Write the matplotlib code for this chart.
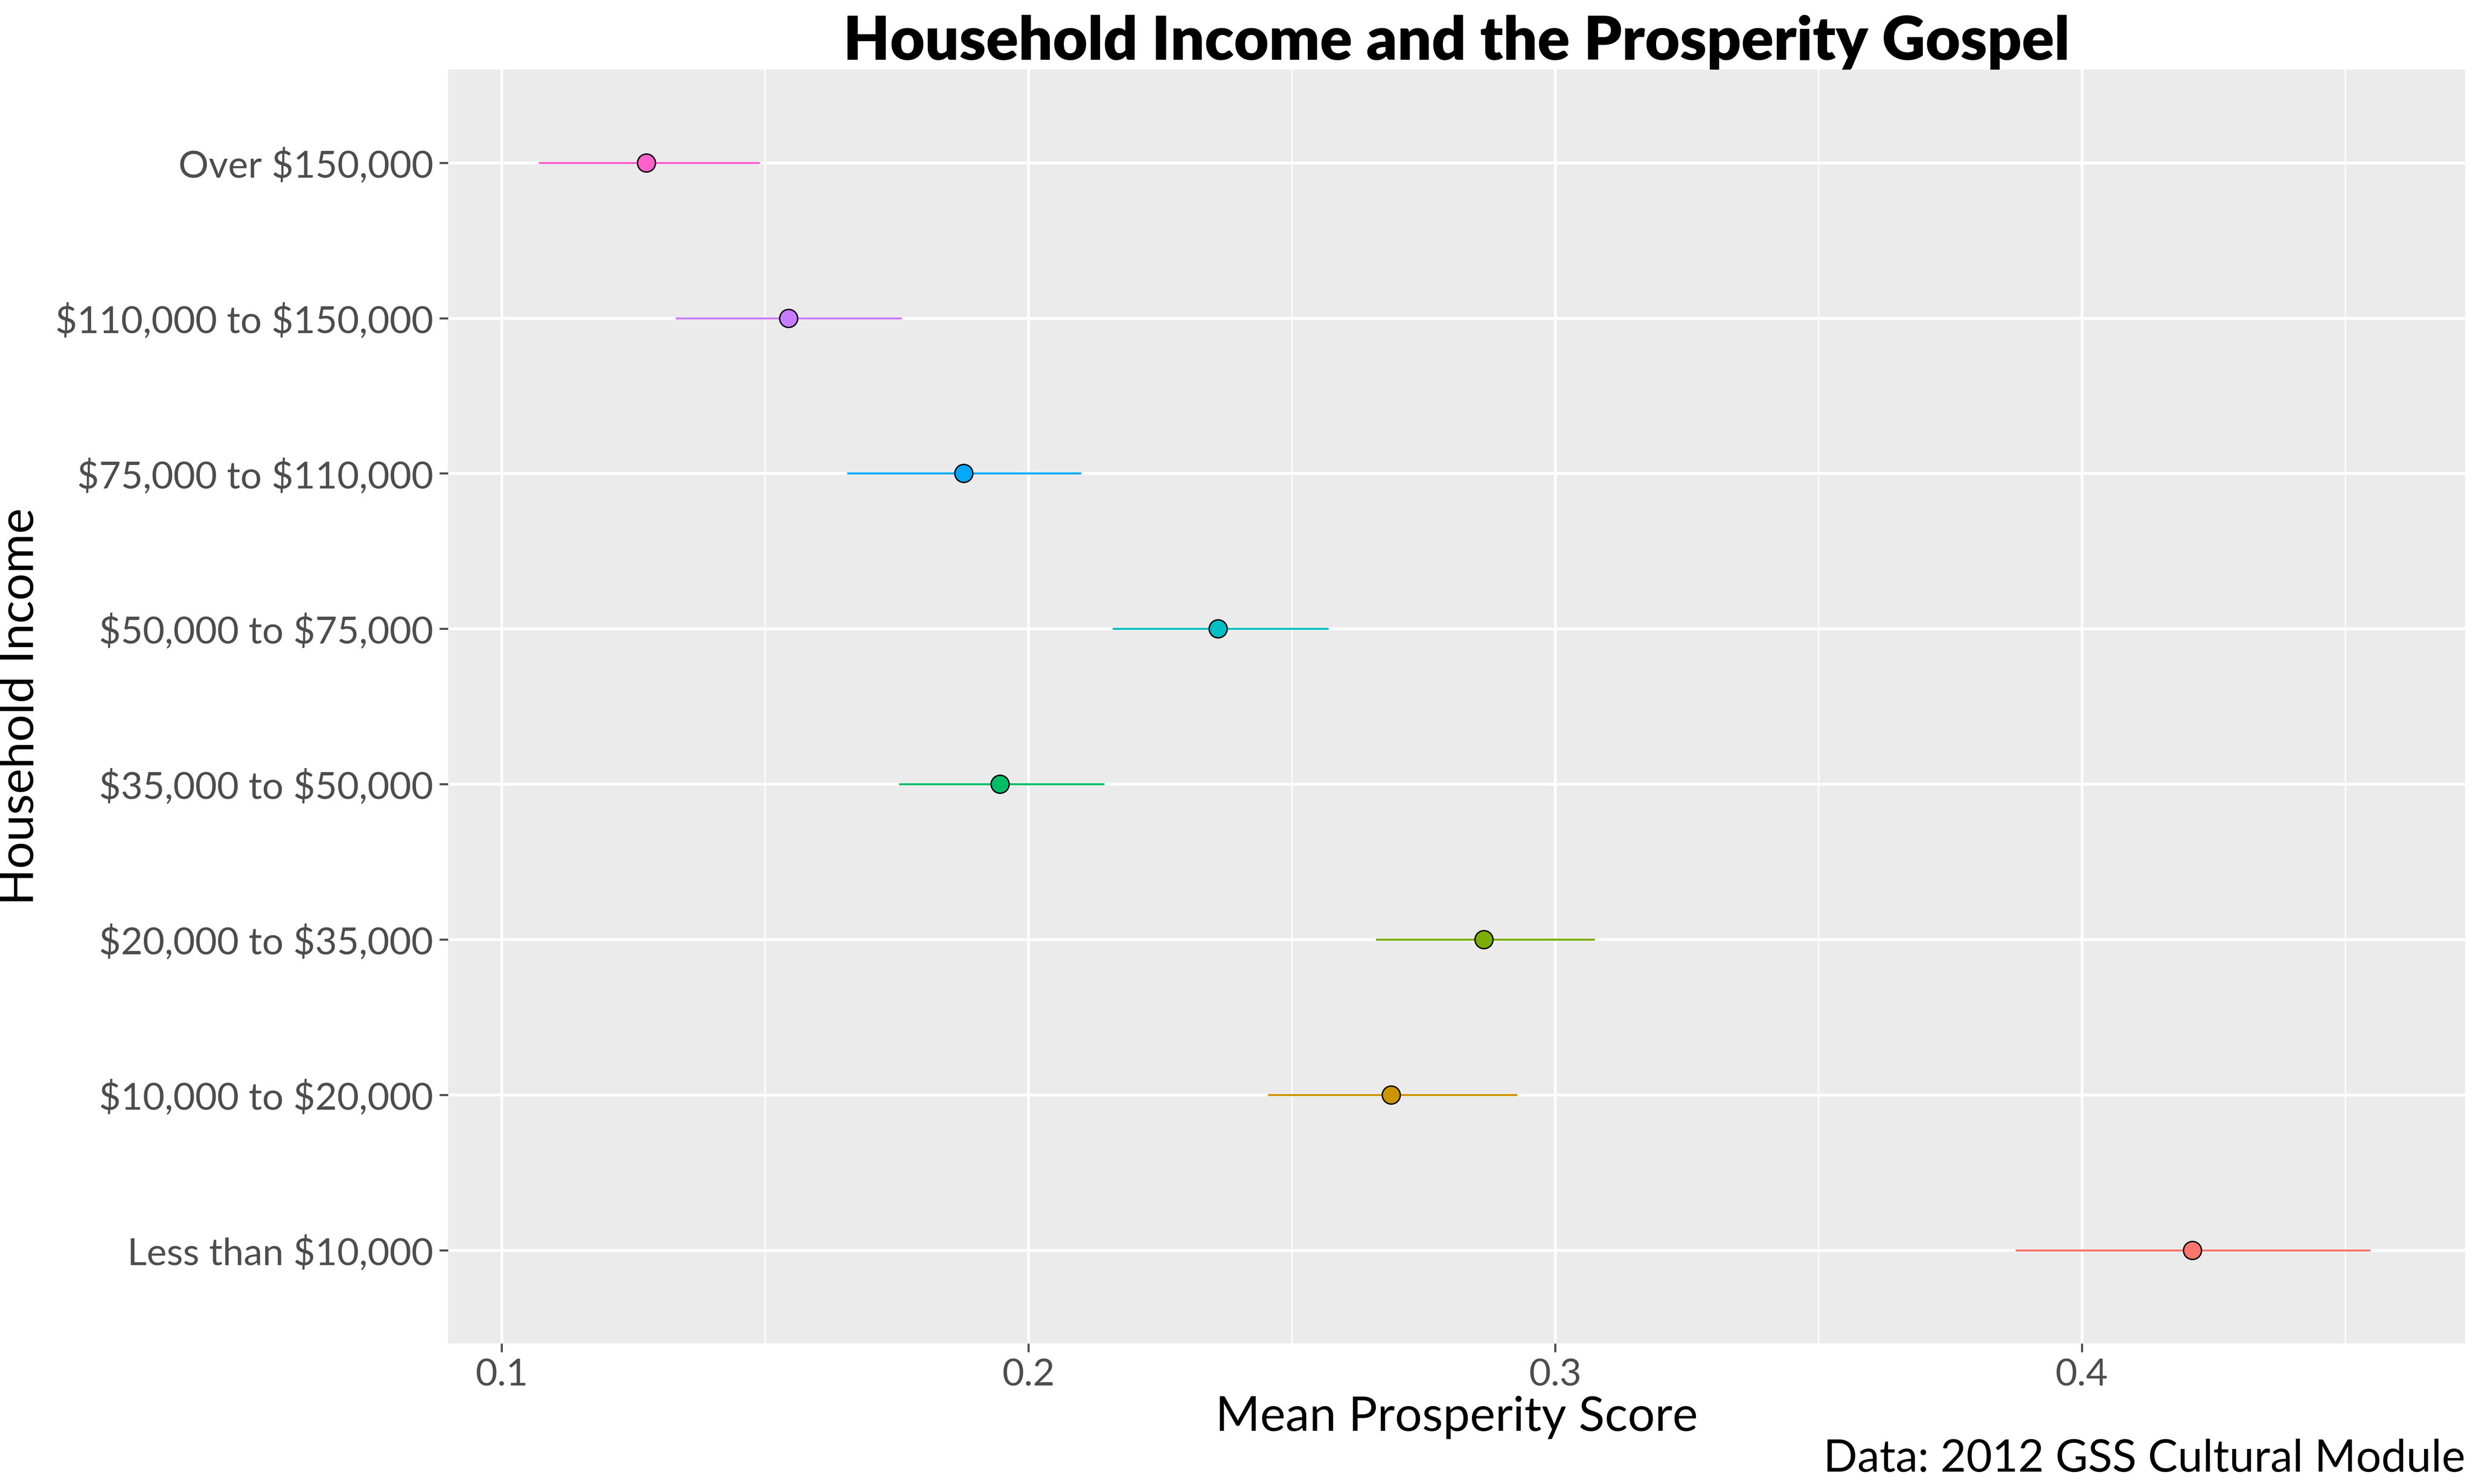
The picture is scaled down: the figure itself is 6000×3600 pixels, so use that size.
import matplotlib
matplotlib.use("Agg")
import matplotlib.pyplot as plt

categories = ["Less than $10,000", "$10,000 to $20,000", "$20,000 to $35,000", "$35,000 to $50,000",
              "$50,000 to $75,000", "$75,000 to $110,000", "$110,000 to $150,000", "Over $150,000"]
means = [0.421, 0.2689, 0.2865, 0.1946, 0.236, 0.1877, 0.1545, 0.1275]
lows = [0.3874, 0.2455, 0.266, 0.1754, 0.216, 0.1656, 0.133, 0.107]
highs = [0.4548, 0.2928, 0.3075, 0.2144, 0.257, 0.210, 0.176, 0.149]
colors = ["#F8766D", "#CD9600", "#7CAE00", "#00BE67", "#00BFC4", "#00A9FF", "#C77CFF", "#FF61CC"]

plt.rcParams['font.family'] = ['Lato', 'DejaVu Sans']
plt.rcParams['text.parse_math'] = False
fig = plt.figure(figsize=(20, 12), dpi=300)
ax = fig.add_axes([284/1568, 1-851/940, (1563-284)/1568, (851-44)/940])
ax.set_facecolor("#EBEBEB")
for s in ax.spines.values():
    s.set_visible(False)
ax.set_xticks([0.1, 0.2, 0.3, 0.4])
ax.set_xticks([0.15, 0.25, 0.35, 0.45], minor=True)
ax.grid(True, which='major', color='white', linewidth=1.6)
ax.grid(True, which='minor', axis='x', color='white', linewidth=0.8)
ax.set_axisbelow(True)
y = list(range(len(categories)))
for i in y:
    ax.hlines(i, lows[i], highs[i], color=colors[i], linewidth=1.2, zorder=2)
    ax.scatter(means[i], i, s=110, color=colors[i], edgecolor='black', linewidth=0.8, zorder=3)
ax.set_yticks(y)
ax.set_yticklabels(categories)
ax.set_xticklabels(["0.1", "0.2", "0.3", "0.4"])
ax.set_xlim(0.0898, 0.4728)
ax.set_ylim(-0.6, 7.6)
ax.tick_params(axis='both', labelsize=22, colors='#4D4D4D', length=5, width=1.2)
ax.tick_params(axis='both', which='minor', length=0)
for t in ax.get_xticklabels() + ax.get_yticklabels():
    t.set_color('#4D4D4D')
ax.set_xlabel("Mean Prosperity Score", fontsize=28, labelpad=2)
ax.set_ylabel("Household Income", fontsize=28, labelpad=8)
ax.set_title("Household Income and the Prosperity Gospel", fontsize=35, fontweight='heavy', pad=4)
fig.text(1563/1568, 0.003, "Data: 2012 GSS Cultural Module", ha='right', va='bottom', fontsize=26)
fig.savefig("out.png", dpi=300)
